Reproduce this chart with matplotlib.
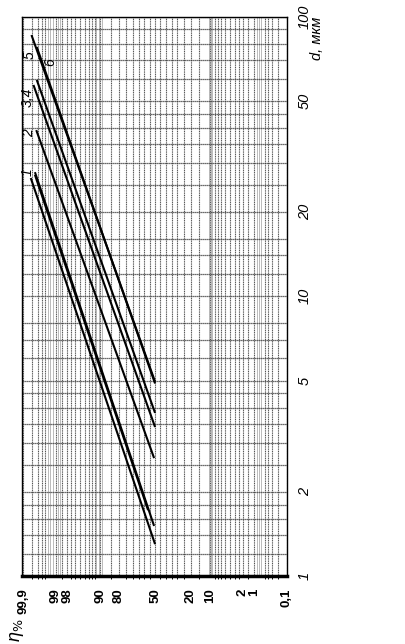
import numpy as np
import matplotlib
matplotlib.use('Agg')
import matplotlib.pyplot as plt
from statistics import NormalDist

# ---- data ----
eta_ticks = [99.9, 99, 98, 90, 80, 50, 20, 10, 2, 1, 0.1]
eta_labels = ['99,9', '99', '98', '90', '80', '50', '20', '10', '2', '1', '0,1']
d_ticks = [1, 2, 5, 10, 20, 50, 100]
d_labels = ['1', '2', '5', '10', '20', '50', '100']

eta_grid_major = [0.1, 0.2, 0.3, 0.4, 0.5, 1, 1.5, 2, 2.5, 3, 4, 5, 6, 7, 8, 10, 15, 20,
                  25, 30, 35, 40, 45, 50, 55, 60, 65, 70, 75, 80, 85, 90, 92, 93, 94,
                  95, 96, 97, 97.5, 98, 98.5, 99, 99.5, 99.6, 99.7, 99.8, 99.9]
eta_grid_minor = [0.65, 0.75, 0.85,
                  9.3, 9.65, 10.4,
                  89.5, 90.7, 91.5,
                  98.7, 98.85, 99.15, 99.3, 99.4]
d_grid = [1, 1.2, 1.4, 1.6, 1.8, 2, 2.5, 3, 3.5, 4, 4.5, 5, 6, 7, 8, 10, 12, 14, 16,
          20, 25, 30, 35, 40, 45, 50, 60, 70, 80, 90, 100]

# each curve: [eta at upper end, eta at lower end], [d at upper end, d at lower end]
curve_names = ['1a', '1b', '1c', '2', '3', '4', '5', '6']
curve_eta = [[99.82, 50], [99.755, 50.9], [99.755, 56.5], [99.73, 50.9],
             [99.78, 50], [99.72, 50], [99.81, 50], [99.72, 50]]
curve_d = [[26.5, 1.30], [27.8, 1.51], [27.2, 1.72], [39.3, 2.64],
           [57.0, 3.41], [59.4, 3.83], [86.0, 4.95], [77.9, 4.88]]

label_text = ['1', '2', '3,4', '5', '6']
label_xy = [(28, 172), (29, 133), (28, 97), (30, 55), (50, 62)]

# ---- probability scale ----
ND = NormalDist()
_ppf = np.vectorize(lambda q: ND.inv_cdf(min(max(q, 1e-7), 1 - 1e-7)), otypes=[float])
_cdf = np.vectorize(ND.cdf, otypes=[float])


def fwd(p):
    return _ppf(np.asarray(p, dtype=float) / 100.0)


def inv(z):
    return _cdf(np.asarray(z, dtype=float)) * 100.0


plt.rcParams['font.family'] = ['Liberation Sans', 'DejaVu Sans']
fig = plt.figure(figsize=(4.05, 6.44), dpi=100)
ax = fig.add_axes([21.5 / 405, 68 / 644, 265.5 / 405, 559.3 / 644])
ax.set_xscale('function', functions=(fwd, inv))
ax.set_yscale('log')
ax.set_xlim(99.912, 0.1156)
ax.set_ylim(1, 100)

for v in eta_grid_minor:
    ax.axvline(v, color='#b0b0b0', lw=0.6, zorder=1)
for v in eta_grid_major:
    ax.axvline(v, color='#555555', lw=0.8, ls=(0, (1, 0.6)), zorder=1)
for v in d_grid:
    ax.axhline(v, color='#3a3a3a', lw=0.9, ls=(0, (1, 0.6)), zorder=1)

for e, d in zip(curve_eta, curve_d):
    ax.plot(e, d, color='black', lw=1.5, zorder=3, solid_capstyle='butt')

ax.set_xticks(eta_ticks)
ax.set_xticklabels(eta_labels, rotation=90, fontsize=9.5, fontweight='bold')
ax.set_xticks(eta_grid_major, minor=True)
ax.tick_params(axis='x', which='major', length=0, pad=9)
ax.tick_params(axis='x', which='minor', length=2.5, width=0.7, direction='out')
ax.yaxis.tick_right()
ax.set_yticks(d_ticks)
ax.set_yticklabels(d_labels, rotation=90, fontsize=10.5, fontstyle='italic', va='center')
ax.yaxis.set_minor_locator(matplotlib.ticker.NullLocator())
ax.tick_params(axis='y', length=0, pad=8)

for s in ['left', 'top', 'right']:
    ax.spines[s].set_linewidth(1.0)
ax.spines['bottom'].set_linewidth(2.5)

fig.text(310 / 405, 1 - 38 / 644, 'd, мкм', rotation=90, fontsize=10.5,
         fontstyle='italic', ha='left', va='center')
fig.text(8 / 405, 1 - 630 / 644, 'η$_{\\%}$', rotation=90, fontsize=13,
         fontstyle='italic', ha='left', va='center')

for name, (x, y) in zip(label_text, label_xy):
    fig.text(x / 405, 1 - y / 644, name, rotation=90, fontsize=10,
             fontstyle='italic', ha='center', va='center')

fig.savefig('out.png', dpi=100)
